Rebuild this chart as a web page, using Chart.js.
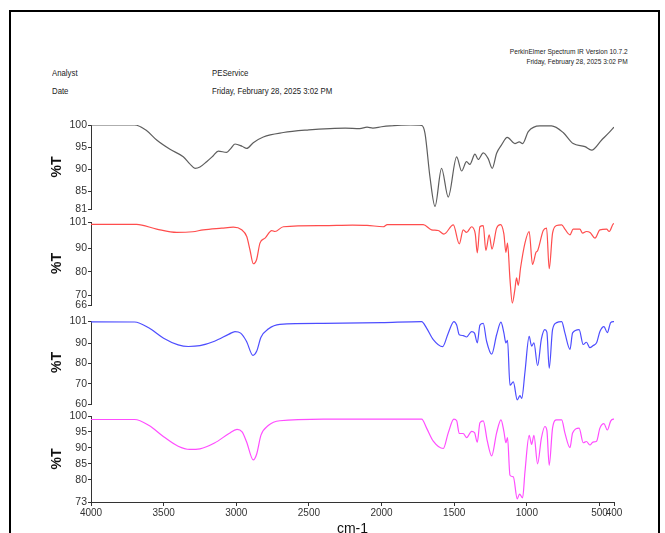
<!DOCTYPE html>
<html>
<head>
<meta charset="utf-8">
<script src="https://cdn.jsdelivr.net/npm/chart.js@4.4.1/dist/chart.umd.min.js"></script>
<style>
  body { margin: 0; width: 665px; height: 533px; overflow: hidden; background: #fff; position: relative;
         font-family: 'Liberation Sans', Arial, sans-serif; color: #222; }
  .frame { position: absolute; left: 9px; top: 10px; width: 647px; height: 600px; border: 2px solid #000; }
  .txt { position: absolute; white-space: nowrap; line-height: 1; transform: scaleX(0.82); transform-origin: left top; }
  .txt.r { transform-origin: right top; text-align: right; }
  canvas.panel { position: absolute; left: 0; }
</style>
</head>
<body>
<div class="frame"></div>
<div class="txt r" style="right:37px; top:47px; font-size:8px; line-height:10px;">PerkinElmer Spectrum IR Version 10.7.2<br>Friday, February 28, 2025 3:02 PM</div>
<div class="txt" style="left:52px; top:68px; font-size:9.5px;">Analyst</div>
<div class="txt" style="left:52px; top:86px; font-size:9.5px;">Date</div>
<div class="txt" style="left:212px; top:68px; font-size:9.5px;">PEService</div>
<div class="txt" style="left:212px; top:86px; font-size:9.5px;">Friday, February 28, 2025 3:02 PM</div>

<canvas id="c1" class="panel" width="665" height="104" style="top:115px"></canvas>
<canvas id="c2" class="panel" width="665" height="103" style="top:212px"></canvas>
<canvas id="c3" class="panel" width="665" height="103" style="top:311px"></canvas>
<canvas id="c4" class="panel" width="665" height="136" style="top:406px"></canvas>

<script>
// x axis (cm-1) tick labels
const xTicks = [4000, 3500, 3000, 2500, 2000, 1500, 1000, 500, 400];

// spectrum 1 (black)
const blackWn = [4000, 3700, 3620, 3548, 3456, 3365, 3320, 3284, 3250, 3204, 3160, 3124, 3066, 3040, 3009, 2960, 2928, 2883, 2814, 2676, 2500, 2355, 2250, 2150, 2100, 2060, 2000, 1942, 1800, 1724, 1701, 1667, 1632, 1587, 1541, 1483, 1449, 1415, 1392, 1357, 1335, 1300, 1266, 1238, 1208, 1174, 1135, 1082, 1052, 1029, 990, 910, 830, 750, 681, 600, 554, 485, 428, 400];
const blackT = [100, 100, 98.8, 96.6, 94.5, 92.8, 91.2, 90.2, 90.5, 91.7, 93, 94.1, 93.8, 94.6, 95.7, 95.2, 94.7, 96, 97.3, 98.3, 98.9, 99.2, 99.3, 99.2, 99.5, 99.3, 99.6, 99.8, 100, 99.9, 98.1, 88.3, 81.6, 90.2, 83.7, 92.8, 89.6, 91.7, 91.1, 93.4, 92.2, 93.7, 92.4, 90.2, 93.6, 95.5, 97.2, 95.8, 96.2, 95.8, 98.5, 99.8, 99.8, 98.3, 95.8, 95.1, 94.3, 96.6, 98.5, 99.5];
const blackTicks = [81, 85, 90, 95, 100];

// spectrum 2 (red)
const redWn = [4000, 3686, 3548, 3410, 3300, 3227, 3100, 3020, 2963, 2928, 2906, 2883, 2860, 2837, 2802, 2756, 2734, 2676, 2401, 2200, 2100, 1989, 1960, 1713, 1656, 1610, 1571, 1506, 1465, 1438, 1415, 1380, 1355, 1341, 1323, 1300, 1282, 1259, 1240, 1208, 1181, 1158, 1144, 1133, 1116, 1100, 1082, 1071, 1059, 1043, 1013, 984, 961, 937, 925, 887, 864, 846, 823, 795, 760, 738, 703, 681, 635, 616, 590, 565, 531, 497, 451, 433, 405, 400];
const redT = [100, 100, 98, 96.6, 96.9, 97.7, 98.4, 98.8, 97.7, 94.9, 89.3, 83.4, 85.2, 92.1, 94.2, 97.4, 97, 99, 99.5, 99.7, 99.6, 99, 99.9, 99.9, 97.7, 97.4, 95.9, 99.8, 91.8, 97.7, 96.6, 99, 96, 88, 99, 99.5, 89, 95.6, 89.6, 98.4, 99.9, 96, 88.2, 92.1, 76.8, 66.8, 72.7, 77.5, 74.3, 81.7, 92.1, 97, 83.1, 88.2, 89, 97.4, 98.4, 81.3, 96.3, 99.5, 99.8, 98, 95.6, 98, 98, 96.3, 97, 96.6, 94.2, 97.7, 98, 97, 100.2, 100.3];
const redTicks = [66, 70, 80, 90, 101];

// spectrum 3 (blue)
const blueWn = [4000, 3700, 3600, 3500, 3400, 3330, 3250, 3150, 3050, 3009, 2970, 2930, 2885, 2860, 2830, 2780, 2700, 2400, 2000, 1724, 1690, 1644, 1580, 1541, 1502, 1483, 1465, 1438, 1415, 1380, 1360, 1341, 1323, 1300, 1277, 1242, 1208, 1178, 1158, 1144, 1133, 1116, 1093, 1066, 1047, 1035, 1013, 984, 967, 951, 926, 900, 876, 862, 846, 823, 795, 760, 738, 703, 685, 640, 612, 590, 566, 545, 520, 497, 469, 446, 423, 405, 400];
const blueT = [100.6, 100.5, 97.5, 92.5, 89.2, 88.4, 88.8, 91, 94.5, 95.8, 95, 91, 84, 86, 93, 97, 99.3, 99.8, 100.2, 100.7, 97.5, 91.8, 88.3, 95, 100.7, 99, 94.2, 93.8, 93.1, 95.8, 95, 90.2, 99, 99.8, 91, 84.6, 94.2, 100.4, 95.1, 90.2, 91.5, 69.3, 70.9, 62, 64.1, 62.8, 75.7, 93.4, 88.6, 90.2, 78.9, 92, 96.7, 95.5, 77.7, 96.7, 100.2, 100.7, 95.1, 87, 95.1, 96.7, 89.4, 90.5, 87.8, 88.8, 90.2, 95.8, 98.2, 95.3, 100.2, 100.7, 100.7];
const blueTicks = [60, 70, 80, 90, 101];

// spectrum 4 (magenta)
const pinkWn = [4000, 3700, 3600, 3500, 3400, 3320, 3250, 3150, 3050, 2995, 2960, 2930, 2883, 2860, 2830, 2780, 2700, 2400, 1724, 1690, 1644, 1575, 1541, 1502, 1483, 1465, 1438, 1415, 1380, 1360, 1341, 1323, 1300, 1272, 1242, 1208, 1178, 1158, 1144, 1133, 1116, 1093, 1066, 1050, 1029, 1013, 984, 967, 951, 926, 900, 876, 862, 846, 823, 795, 760, 738, 703, 685, 640, 612, 590, 566, 545, 520, 497, 469, 446, 423, 405, 400];
const pinkT = [98.9, 98.9, 97, 93.5, 90.5, 89.5, 89.7, 91.5, 94.5, 95.8, 95, 92, 86.2, 88, 94, 97, 98.5, 99, 99, 96.2, 92.1, 89.8, 94.7, 99, 98.5, 94.5, 94.5, 93.2, 95.2, 94.8, 91.8, 97.9, 98.5, 92.1, 87.5, 94.7, 98.8, 95.2, 91.6, 93.2, 81.4, 80.9, 74, 75.5, 74.3, 82.4, 93.9, 91.1, 93.9, 85, 93, 96.7, 95.5, 84.5, 96.2, 98.8, 98.8, 94.7, 90.1, 94.7, 96.2, 91.6, 92, 90.9, 91.8, 92.1, 96.2, 97.6, 95.6, 98.4, 99, 99];
const pinkTicks = [73, 80, 85, 90, 95, 100];

Chart.defaults.font.family = "'Liberation Sans', Arial, sans-serif";
Chart.defaults.color = '#333';

function makePanel(id, wn, tr, color, yTicks, showX) {
    const pts = wn.map((w, i) => ({ x: w, y: tr[i] }));
    return new Chart(document.getElementById(id), {
        type: 'line',
        data: {
            datasets: [{
                data: pts,
                borderColor: color,
                borderWidth: 1.2,
                pointRadius: 0,
                fill: false,
                cubicInterpolationMode: 'monotone'
            }]
        },
        options: {
            responsive: false,
            animation: false,
            events: [],
            layout: { padding: { top: 10, bottom: showX ? 0 : 10, left: 0, right: 51 } },
            plugins: { legend: { display: false }, tooltip: { enabled: false } },
            scales: {
                x: {
                    type: 'linear',
                    reverse: true,
                    min: 400,
                    max: 4000,
                    display: showX,
                    afterBuildTicks: s => { s.ticks = xTicks.map(v => ({ value: v })); },
                    // only the bottom panel has a visible x axis, fix its height
                    afterFit: s => { if (showX) s.height = 40; },
                    grid: { drawOnChartArea: false, tickLength: 4, color: '#333' },
                    border: { color: '#333', width: 1 },
                    ticks: { autoSkip: false, maxRotation: 0, padding: 1, font: { size: 10 }, callback: v => String(v) },
                    title: { display: true, text: 'cm-1', color: '#111', font: { size: 14 }, padding: { top: 0, bottom: 4.6 } }
                },
                y: {
                    min: yTicks[0],
                    max: yTicks[yTicks.length - 1],
                    afterBuildTicks: s => { s.ticks = yTicks.map(v => ({ value: v })); },
                    afterFit: s => { s.width = 91; },
                    grid: { drawOnChartArea: false, tickLength: 3, color: '#333' },
                    border: { color: '#333', width: 1 },
                    ticks: { autoSkip: false, padding: 1, font: { size: 10.5 }, callback: v => String(v) },
                    title: { display: true, text: '%T', color: '#111', font: { size: 14, weight: 'bold' }, padding: { top: 48.6, bottom: 0 } }
                }
            }
        }
    });
}

makePanel('c1', blackWn, blackT, '#5e5e5e', blackTicks, false);
makePanel('c2', redWn, redT, '#ff4d4d', redTicks, false);
makePanel('c3', blueWn, blueT, '#4d4dff', blueTicks, false);
makePanel('c4', pinkWn, pinkT, '#ff4dff', pinkTicks, true);
</script>
</body>
</html>
